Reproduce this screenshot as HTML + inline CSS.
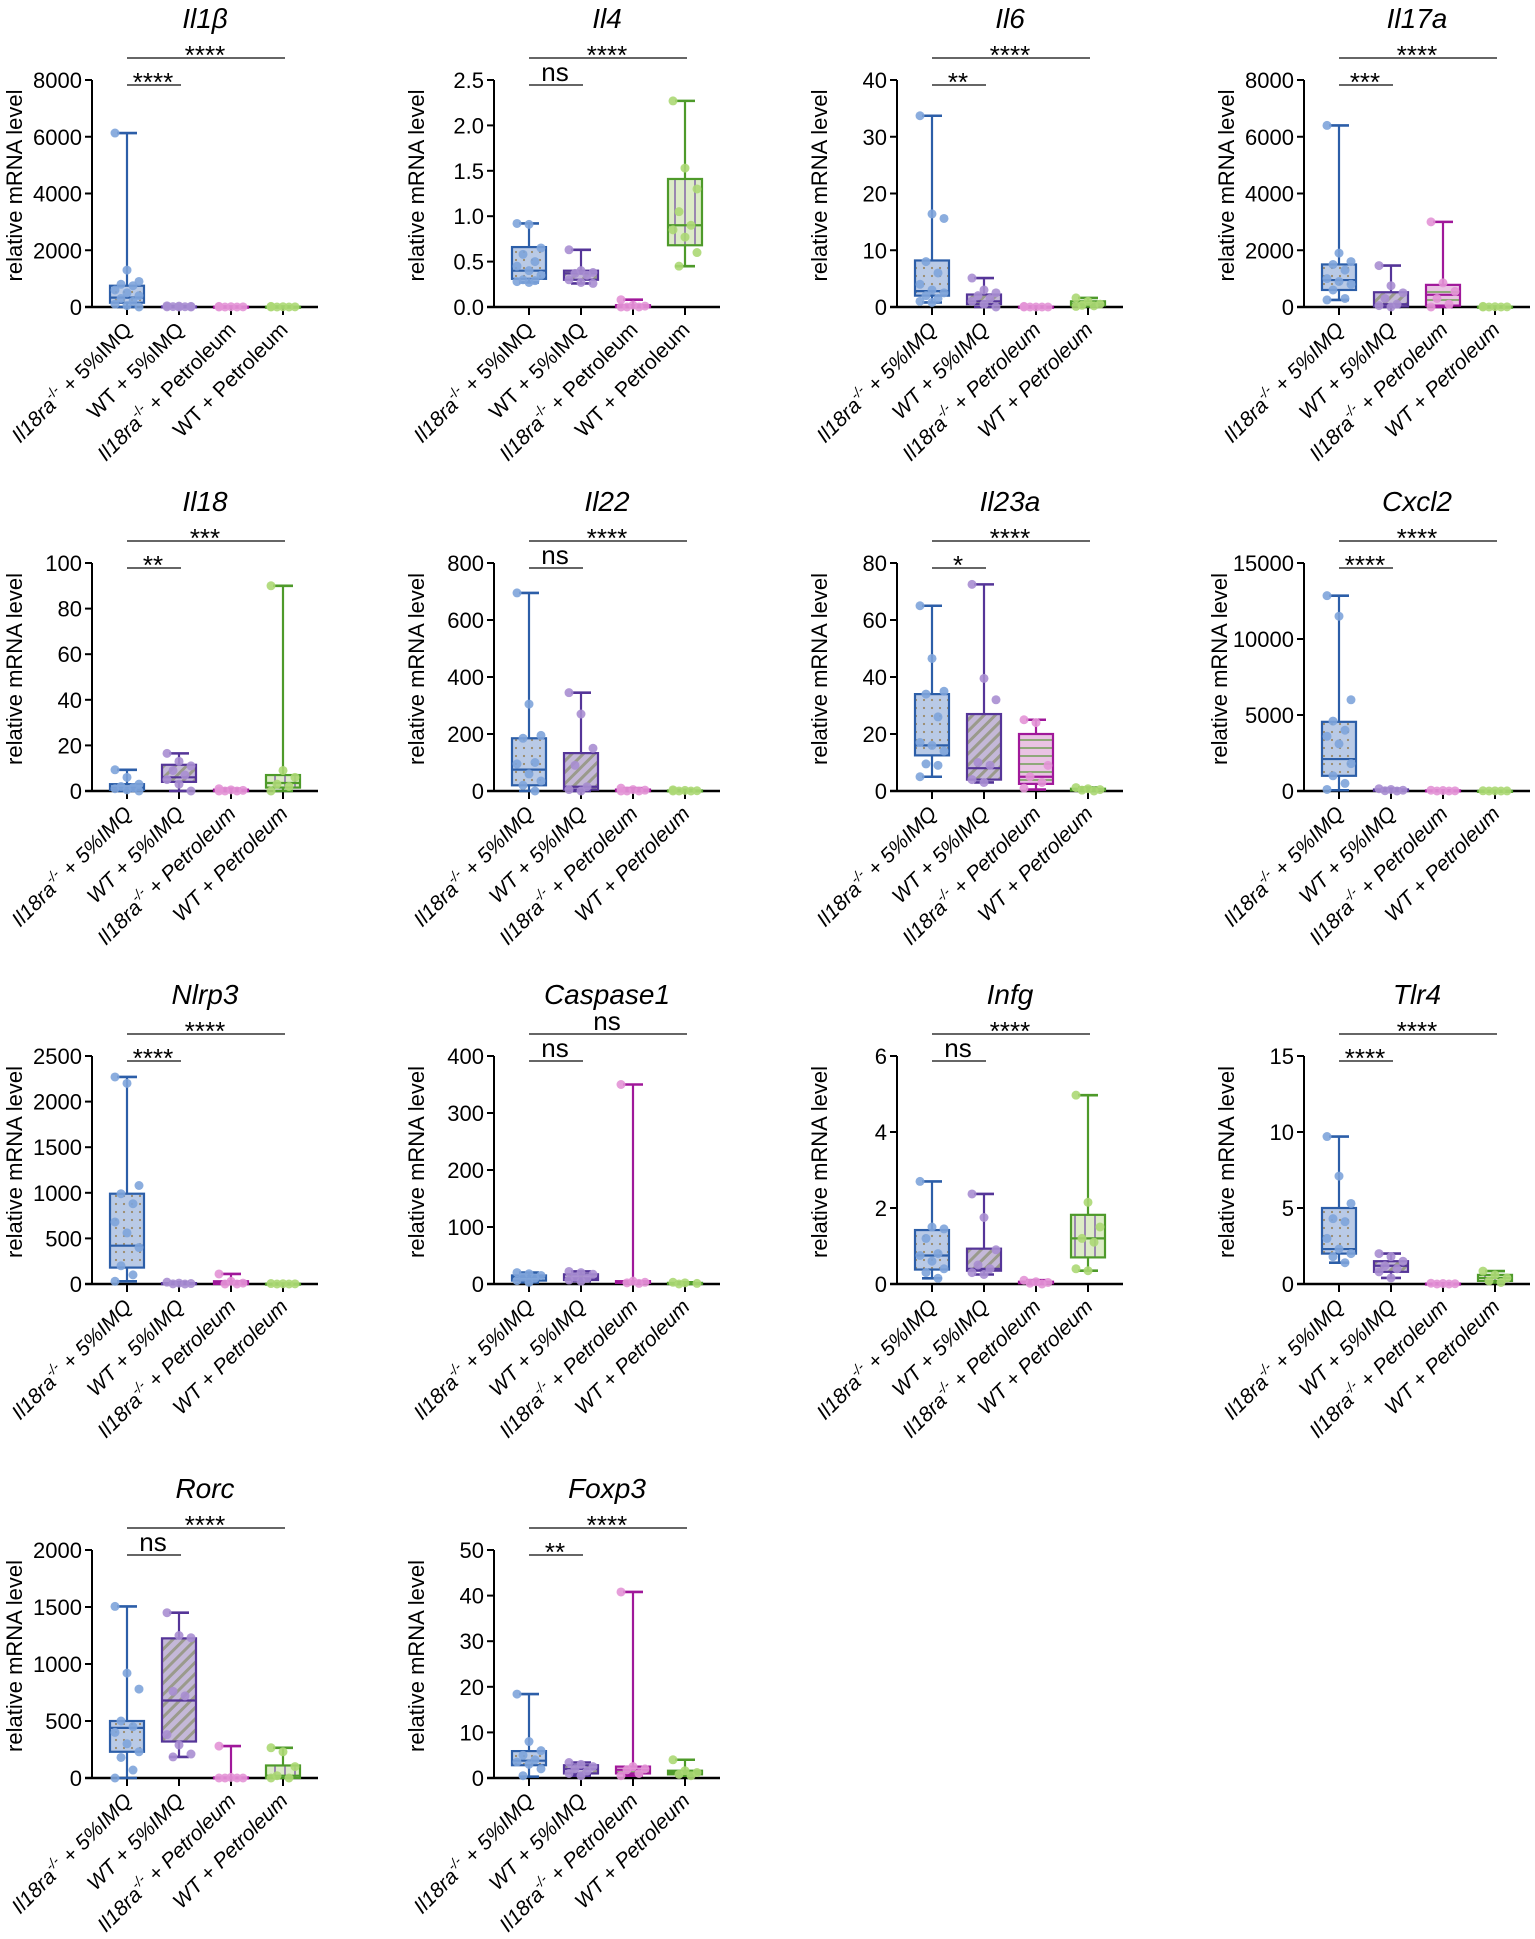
<!DOCTYPE html>
<html><head><meta charset="utf-8"><title>relative mRNA levels</title>
<style>
html,body{margin:0;padding:0;background:#fff;}
svg{display:block;font-family:"Liberation Sans",Arial,sans-serif;}
</style></head>
<body>
<svg id="chart" width="1535" height="1939" viewBox="0 0 1535 1939" xmlns="http://www.w3.org/2000/svg">
<defs>
<pattern id="pDots" width="8" height="8" patternUnits="userSpaceOnUse"><rect width="8" height="8" fill="#b9cae6"/><circle cx="4" cy="4" r="1.1" fill="#9a8a6a"/></pattern>
<pattern id="pHatch" width="8" height="8" patternUnits="userSpaceOnUse" patternTransform="rotate(45)"><rect width="8" height="8" fill="#c4b8d8"/><rect width="3" height="8" fill="#9a9a8c"/></pattern>
<pattern id="pHoriz" width="8" height="8" patternUnits="userSpaceOnUse"><rect width="8" height="8" fill="#e9c3e3"/><rect y="3" width="8" height="2" fill="#8fa87a"/></pattern>
<pattern id="pVert" width="10" height="10" patternUnits="userSpaceOnUse"><rect width="10" height="10" fill="#dcecc6"/><rect x="4" width="2" height="10" fill="#9a88b0"/></pattern>
</defs>
</svg>
<script>
const genes=["Il1β","Il4","Il6","Il17a","Il18","Il22","Il23a","Cxcl2","Nlrp3","Caspase1","Infg","Tlr4","Rorc","Foxp3"];
const yMaxs=[8000,2.5,40,8000,100,800,80,15000,2500,400,6,15,2000,50];
const yStepsVals=[2000,0.5,10,2000,20,200,20,5000,500,100,2,5,500,10];
const tickDecimals=[0,1,0,0,0,0,0,0,0,0,0,0,0,0];
const sigAll=["****","****","****","****","***","****","****","****","****","ns","****","****","****","****"];
const sigFirst=["****","ns","**","***","**","ns","*","****","****","ns","ns","****","ns","**"];
const groups=["Il18ra","WT + 5%IMQ","Il18ra","WT + Petroleum"];
// per panel, per group: [min,q1,median,q3,max]
const mins=[[0,0,0,0],[.27,.26,0,.45],[.8,0,0,.1],[250,0,0,0],[0,0,0,0],[0,0,0,0],[5,3,.5,0],[50,0,0,0],[30,0,0,0],[3,5,1,0],[.15,.25,0,.35],[1.4,.4,0,.1],[0,185,0,0],[.3,.5,.5,.5]];
const q1s=[[150,5,0,0],[.31,.3,0,.68],[2,.5,0,.3],[600,20,50,0],[.5,4,0,1.5],[20,5,0,0],[12.5,4,2.5,.2],[1000,20,0,0],[180,2,0,0],[6,7,2,0],[.38,.35,.02,.7],[2,.8,0,.2],[230,320,0,0],[2.8,1,1,.8]];
const medians=[[330,10,5,5],[.4,.37,.01,.9],[2.8,1,0,.5],[950,100,430,5],[1.5,6,.3,3.5],[75,15,3,1],[16,8,5,.5],[2100,50,20,5],[420,5,10,2],[12,10,3,1],[.75,.4,.04,1.2],[2.3,1.2,.02,.4],[440,680,0,20],[3.8,2,1.8,1.2]];
const q3s=[[750,20,10,10],[.66,.4,.02,1.41],[8.2,2.2,.05,1],[1500,520,780,10],[3,11.5,.6,7],[185,133,5,2],[34,27,20,.8],[4550,100,40,10],[990,10,30,4],[15,17,5,2],[1.42,.93,.06,1.82],[5,1.5,.03,.6],[500,1225,5,110],[5.9,2.8,2.5,1.6]];
const maxs=[[6130,40,20,20],[.92,.63,.08,2.27],[33.7,5.1,.1,1.6],[6400,1460,3000,20],[9.3,16.5,1,90],[695,345,10,4],[65,72.5,25,1.2],[12850,150,50,15],[2270,20,110,5],[20,22,350,3],[2.7,2.37,.1,4.97],[9.7,2,.05,.85],[1505,1450,280,265],[18.4,3.4,40.8,4]];
const points=[
[[6130,1300,900,800,750,600,500,400,300,200,100,50,0],[40,30,20,15,10,5,0,0],[20,10,5,0,0,0],[20,10,5,0,0,0]],
[[.92,.91,.65,.58,.5,.45,.4,.35,.3,.29,.28,.27],[.63,.4,.38,.37,.35,.3,.27,.26],[.08,.02,.01,0,0,0],[2.27,1.53,1.3,1.05,.9,.85,.77,.6,.45]],
[[33.7,16.4,15.6,8,6,4,3,2.5,2,1.5,1,.8],[5.1,3,2.5,2,1.5,1,.5,0],[.1,0,0,0,0,0],[1.6,1,.5,.3,.2,.1]],
[[6400,1900,1600,1500,1300,1000,900,800,600,300,250],[1460,750,500,300,100,50,0],[3000,850,550,300,100,0],[20,10,5,0,0,0]],
[[9.3,6,3,2,1.5,1,.5,0],[16.5,13,11,9,7,5,3,0],[1,.5,.3,0,0,0],[90,9,6,3,2,0]],
[[695,305,195,185,100,95,60,35,20,0],[345,270,150,90,15,5,0],[10,5,3,0,0,0],[4,2,1,0,0,0]],
[[65,46.5,35,34,26,17,16,14,9.5,9,5],[72.5,39.5,32,10,9,4,3],[25,24,9,5,3,1],[1.2,.8,.5,.3,0]],
[[12850,11500,6000,4600,4000,3600,3100,1800,1000,500,100],[150,100,50,20,0],[50,30,10,0,0],[15,10,5,0,0]],
[[2270,2200,1080,990,880,680,560,400,200,100,30],[20,10,5,2,0],[110,30,10,0,0],[5,3,2,0,0]],
[[20,18,15,12,10,6,3],[22,20,17,12,10,7,5],[350,5,3,2,1],[3,2,1,0]],
[[2.7,1.5,1.45,1.2,.8,.75,.6,.4,.3,.15],[2.37,1.75,.9,.5,.4,.3,.25],[.1,.06,.04,.02,0],[4.97,2.15,1.5,1.2,1.1,.4,.35]],
[[9.7,7.1,5.3,4.3,4.1,3,2.3,2,1.8,1.4],[2,1.8,1.5,1.2,1,.8,.4],[.05,.03,.02,0,0],[.85,.6,.4,.2,.1]],
[[1505,920,780,500,450,400,300,230,180,70,0],[1450,1250,1230,760,720,380,290,210,185],[280,5,0,0,0,0],[265,230,100,20,0,0]],
[[18.4,8,6,5,4,3.5,3,2,.5],[3.4,3,2.5,2,1.5,1,.5],[40.8,2.5,2,1.8,1,.5],[4,1.6,1.2,.8,.5]]
];
const colX=[92,494,897,1304];
const rowY=[[80,307],[563,791],[1056,1284],[1550,1778]];
const lineCols=["#2c5ea8","#553598","#a0189a","#4e9a2a"];
const ptCols=["#7ea4da","#a88ed2","#e394d6","#acd874"];
const fills=["url(#pDots)","url(#pHatch)","url(#pHoriz)","url(#pVert)"];
const NS="http://www.w3.org/2000/svg";
const svg=document.getElementById('chart');
function mk(tag,attrs,parent){const e=document.createElementNS(NS,tag);for(const k in attrs)e.setAttribute(k,attrs[k]);(parent||svg).appendChild(e);return e;}

genes.forEach((gene,p)=>{
  const ax=colX[p%4], top=rowY[Math.floor(p/4)][0], bot=rowY[Math.floor(p/4)][1];
  const g=mk('g',{});
  
  
  const yS=v=>bot-(v/yMaxs[p])*(bot-top);
  const xS=i=>ax+35+52*i;
  const t=mk('text',{x:(xS(1)+xS(2))/2,y:top-52,'text-anchor':'middle','font-size':28,'font-style':'italic'},g);
  t.textContent=gene;
  
  
  const maxLabel=yMaxs[p].toFixed(tickDecimals[p]).length;
  const tOff=Math.max(70,16+maxLabel*12.2);
  const yt=mk('text',{x:0,y:0,'text-anchor':'middle','font-size':22,transform:`translate(${ax-tOff},${(top+bot)/2-8}) rotate(-90)`},g);
  yt.textContent='relative mRNA level';
  
  
  const yAx=mk('line',{x1:ax,y1:top,x2:ax,y2:bot,stroke:'#000','stroke-width':2},g);
  
  
  const xAx=mk('line',{x1:ax-7,y1:bot,x2:xS(3)+35,y2:bot,stroke:'#000','stroke-width':2.4},g);
  
  
  for(let v=0;v<=yMaxs[p]+1e-9;v+=yStepsVals[p]){
    const y=yS(v);
    mk('line',{x1:ax-7,y1:y,x2:ax,y2:y,stroke:'#000','stroke-width':2},g);
    const tl=mk('text',{x:ax-10,y:y+8,'text-anchor':'end','font-size':22},g);
    tl.textContent=v.toFixed(tickDecimals[p]);
    
    
  }
  for(let i=0;i<4;i++){
    const cx=xS(i);
    mk('line',{x1:cx,y1:bot,x2:cx,y2:bot+8,stroke:'#000','stroke-width':2},g);
    const lc=lineCols[i];
    const wk=mk('line',{x1:cx,y1:yS(mins[p][i]),x2:cx,y2:yS(maxs[p][i]),stroke:lc,'stroke-width':2.2},g);
    
    
    [mins[p][i],maxs[p][i]].forEach(v=>mk('line',{x1:cx-10,y1:yS(v),x2:cx+10,y2:yS(v),stroke:lc,'stroke-width':2.6},g));
    const b=mk('rect',{x:cx-17,y:yS(q3s[p][i]),width:34,height:Math.max(1,yS(q1s[p][i])-yS(q3s[p][i])),fill:fills[i],stroke:lc,'stroke-width':2.2},g);
    
    
    mk('line',{x1:cx-17,y1:yS(medians[p][i]),x2:cx+17,y2:yS(medians[p][i]),stroke:lc,'stroke-width':2.2},g);
    points[p][i].forEach((v,k)=>{
      const c=mk('circle',{cx:cx+((k*7)%5-2)*6,cy:yS(v),r:4.5,fill:ptCols[i],'fill-opacity':0.9},g);
      
      
    });
    const lab=mk('text',{x:0,y:0,'text-anchor':'end','font-size':21,'font-style':(p<2?'normal':'italic'),transform:`translate(${cx+6},${bot+24}) rotate(-45)`},g);
    
    
    if(i===0||i===2){
      const a=mk('tspan',{'font-style':'italic'},lab);a.textContent='Il18ra';
      const s=mk('tspan',{'font-size':14,dy:-9},lab);s.textContent='-/-';
      const r=mk('tspan',{dy:9},lab);r.textContent=i===0?' + 5%IMQ':' + Petroleum';
    } else lab.textContent=groups[i];
  }
  const yBig=top-22, ySmall=top+5;
  const l1=mk('line',{x1:xS(0),y1:yBig,x2:xS(3)+2,y2:yBig,stroke:'#333','stroke-width':1.5},g);
  
  
  const s1=mk('text',{x:(xS(0)+xS(3))/2,y:sigAll[p]==='ns'?yBig-4:yBig+6,'text-anchor':'middle','font-size':26},g);
  s1.textContent=sigAll[p];
  
  
  const l2=mk('line',{x1:xS(0),y1:ySmall,x2:xS(1)+2,y2:ySmall,stroke:'#333','stroke-width':1.5},g);
  
  
  const s2=mk('text',{x:(xS(0)+xS(1))/2,y:sigFirst[p]==='ns'?ySmall-4:ySmall+6,'text-anchor':'middle','font-size':26},g);
  s2.textContent=sigFirst[p];
  
  
});
</script>
</body></html>
